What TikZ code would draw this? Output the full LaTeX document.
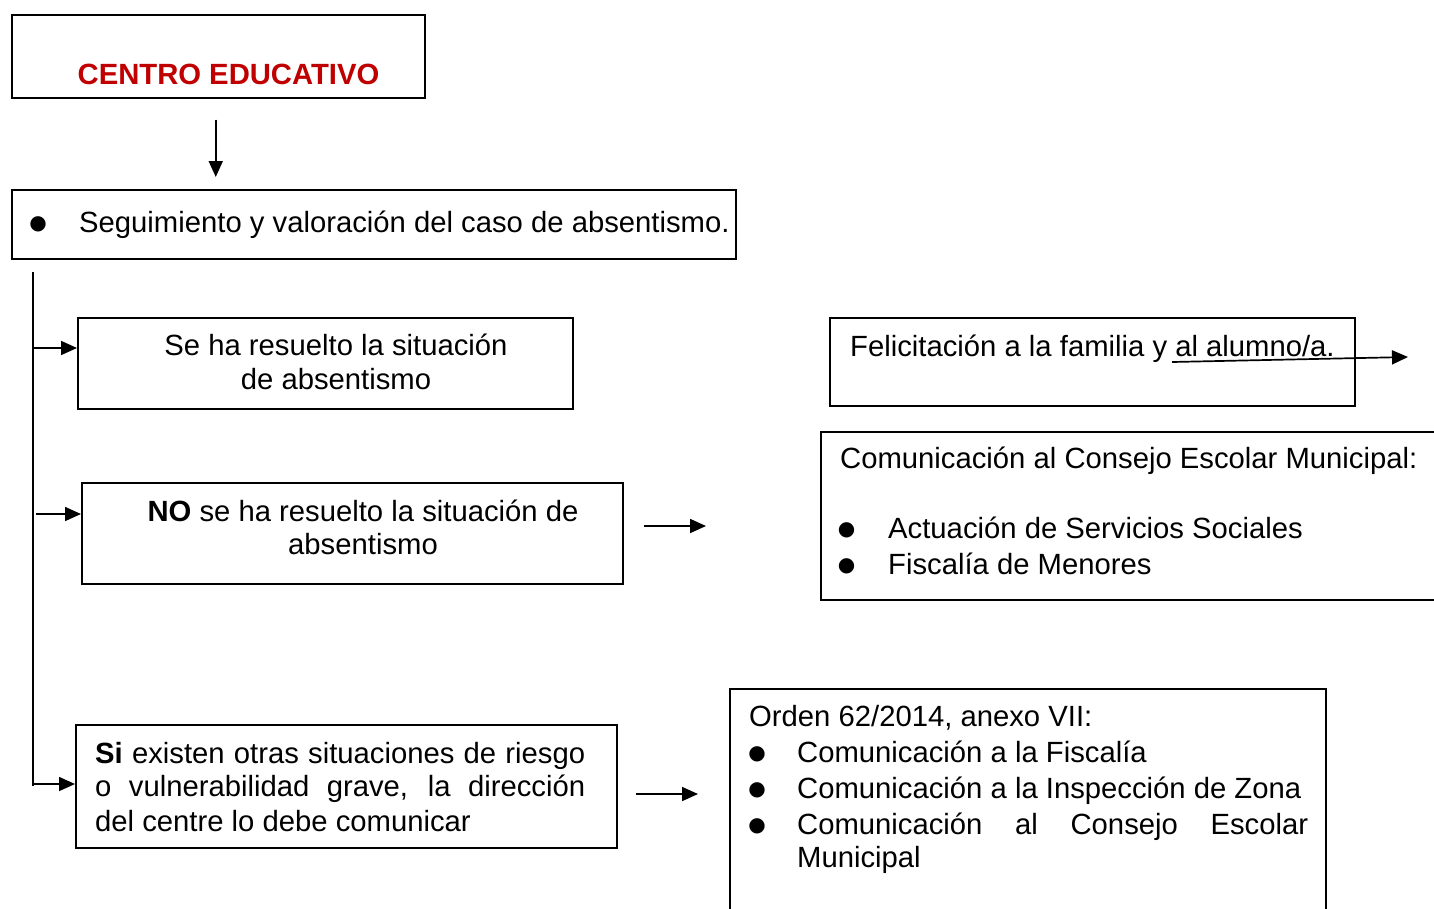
\documentclass[tikz,border=0pt]{standalone}
\usepackage{fontspec}
\setmainfont{Liberation Sans}
\newfontfamily\dejavubul{DejaVu Sans}
\usetikzlibrary{arrows.meta}
\definecolor{dred}{RGB}{192,0,0}
\newcommand{\bigbul}[1]{\makebox[#1][l]{\hspace{1pt}\raisebox{3pt}{\dejavubul\fontsize{20}{22}\selectfont ●}}}
\begin{document}
\begin{tikzpicture}[x=1pt,y=-1pt,
 box/.style={draw, line width=1.5pt, inner sep=0pt, anchor=north west},
 txt/.style={inner sep=0pt, anchor=base west, font=\fontsize{29.25}{34}\selectfont},
 ctxt/.style={txt, anchor=base},
 arr/.style={line width=1.7pt, -{Triangle[length=16pt,width=14pt]}},
 trunk/.style={line width=1.8pt}]
\clip (0,0) rectangle (1434,908);
\fill[white] (0,0) rectangle (1434,908);
% boxes
\node[box, minimum width=413pt, minimum height=83pt] (centro) at (11,14) {};
\node[box, minimum width=724pt, minimum height=69pt] (seg) at (11,189) {};
\node[box, minimum width=495pt, minimum height=91pt] (res) at (77,317) {};
\node[box, minimum width=541pt, minimum height=101pt] (nores) at (81,482) {};
\node[box, minimum width=541pt, minimum height=123pt] (si) at (75,724) {};
\node[box, minimum width=525pt, minimum height=88pt] (feli) at (829,317) {};
\node[box, minimum width=640pt, minimum height=168pt] (com) at (820,431) {};
\node[box, minimum width=596pt, minimum height=240pt] (orden) at (729,688) {};
% texts
\node[ctxt, font=\bfseries\fontsize{29.25}{34}\selectfont, text=dred] (tcentro) at (228.5,84) {CENTRO EDUCATIVO};
\node[txt] (tseg) at (28.25,232) {\bigbul{50.75pt}Seguimiento y valoración del caso de absentismo.};
\node[ctxt] (tres1) at (336,355) {Se ha resuelto la situación};
\node[ctxt] (tres2) at (336,389) {de absentismo};
\node[ctxt] (tno1) at (363,521) {\textbf{NO} se ha resuelto la situación de};
\node[ctxt] (tno2) at (363,554) {absentismo};
\node[txt] (tsi1) at (95,763) {\makebox[490pt][s]{\textbf{Si} existen otras situaciones de riesgo}};
\node[txt] (tsi2) at (95,796) {\makebox[490pt][s]{o vulnerabilidad grave, la dirección}};
\node[txt] (tsi3) at (95,831) {del centre lo debe comunicar};
\node[txt] (tfeli) at (850,356) {Felicitación a la familia y al alumno/a.};
\node[txt] (tcom) at (840,468) {Comunicación al Consejo Escolar Municipal:};
\node[txt] (tcom1) at (836.75,538) {\bigbul{51.25pt}Actuación de Servicios Sociales};
\node[txt] (tcom2) at (836.75,574) {\bigbul{51.25pt}Fiscalía de Menores};
\node[txt] (tord) at (749,726) {Orden 62/2014, anexo VII:};
\node[txt] (tord1) at (747.25,762) {\bigbul{49.75pt}Comunicación a la Fiscalía};
\node[txt] (tord2) at (747.25,798) {\bigbul{49.75pt}Comunicación a la Inspección de Zona};
\node[txt] (tord3) at (747.25,834) {\bigbul{49.75pt}\makebox[511pt][s]{Comunicación al Consejo Escolar}};
\node[txt] (tord4) at (797,867) {Municipal};
% connectors
\coordinate (a0) at ([xshift=-2.5pt,yshift=-21pt]centro.south);
\path (a0 |- seg.north) coordinate (a1);
\draw[arr] (a0) -- ([yshift=12pt]a1);
\coordinate (t0) at (33,272);
\coordinate (t1) at (33,786);
\draw[trunk] (t0) -- (t1);
\coordinate (b1) at (34,348);
\coordinate (b2) at (36,514);
\coordinate (b3) at (32,784);
\draw[arr] (b1) -- (b1 -| res.west);
\draw[arr] (b2) -- (b2 -| nores.west);
\draw[arr] (b3) -- (b3 -| si.west);
\coordinate (n1) at (644,526);
\coordinate (n2) at (706,526);
\draw[arr] (n1) -- (n2);
\coordinate (s1) at (636,794);
\coordinate (s2) at (698,794);
\draw[arr] (s1) -- (s2);
\coordinate (f1) at (1172,362);
\coordinate (f2) at (1408,357);
\draw[arr] (f1) -- (f2);
\end{tikzpicture}
\end{document}
